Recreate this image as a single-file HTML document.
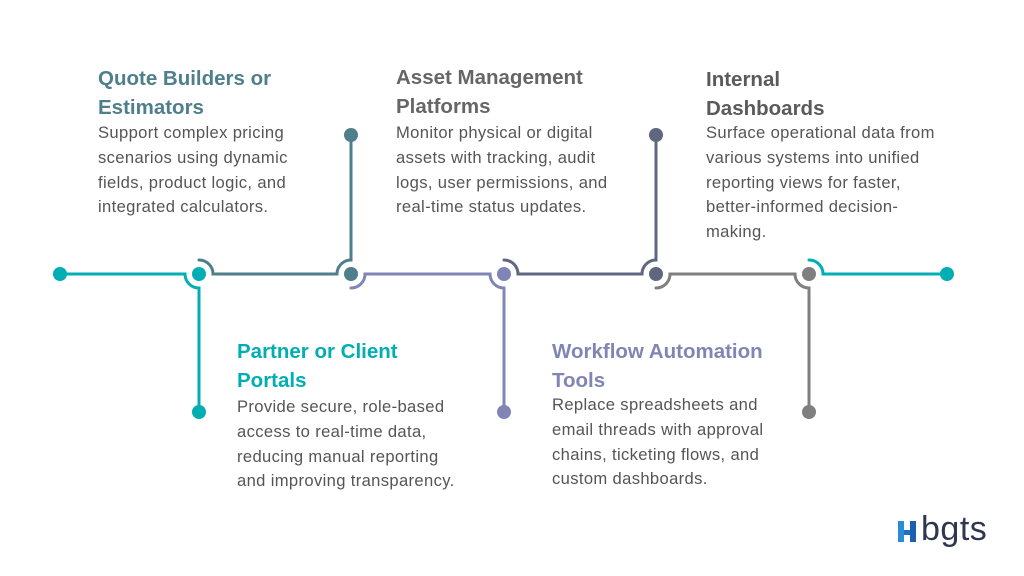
<!DOCTYPE html>
<html><head><meta charset="utf-8"><style>
body{margin:0;width:1024px;height:576px;background:#fff;position:relative;overflow:hidden;font-family:"Liberation Sans",sans-serif}
.t{position:absolute;font-weight:bold;font-size:20.5px;line-height:29px;white-space:nowrap}
.b{position:absolute;font-size:16.6px;line-height:24.8px;color:#555;white-space:nowrap;letter-spacing:0.35px}
</style></head><body>
<svg width="1024" height="576" style="position:absolute;left:0;top:0" fill="none" stroke-width="3" stroke-linecap="round">
<g stroke="#00AEB3"><path d="M60 274 H185 A14 14 0 0 0 199 288 V412"/><path d="M809 260 A14 14 0 0 1 823 274 H947"/></g>
<g fill="#00AEB3"><circle cx="60" cy="274" r="7"/><circle cx="199" cy="274" r="7"/><circle cx="199" cy="412" r="7"/><circle cx="947" cy="274" r="7"/></g>
<path stroke="#4E7F8A" d="M199 260 A14 14 0 0 1 213 274 H337 A14 14 0 0 1 351 260 V135"/>
<g fill="#4E7F8A"><circle cx="351" cy="274" r="7"/><circle cx="351" cy="135" r="7"/></g>
<path stroke="#8085B5" d="M351 288 A14 14 0 0 0 365 274 H490 A14 14 0 0 0 504 288 V412"/>
<g fill="#8085B5"><circle cx="504" cy="274" r="7"/><circle cx="504" cy="412" r="7"/></g>
<path stroke="#5F6680" d="M504 260 A14 14 0 0 1 518 274 H642 A14 14 0 0 1 656 260 V135"/>
<g fill="#5F6680"><circle cx="656" cy="274" r="7"/><circle cx="656" cy="135" r="7"/></g>
<path stroke="#7F7F7F" d="M656 288 A14 14 0 0 0 670 274 H795 A14 14 0 0 0 809 288 V412"/>
<g fill="#7F7F7F"><circle cx="809" cy="274" r="7"/><circle cx="809" cy="412" r="7"/></g>
<rect x="898" y="521" width="6" height="21" fill="#2A8BD8" stroke="none"/>
<rect x="904" y="530" width="6" height="5" fill="#1E6FC0" stroke="none"/>
<rect x="910" y="521" width="6" height="21" fill="#1B5FB0" stroke="none"/>
</svg>
<div style="position:absolute;left:921px;top:510px;font-size:34px;color:#2F3650;letter-spacing:0.5px">bgts</div>

<div class="t" style="left:98px;top:64px;color:#4E7F8A">Quote Builders or<br>Estimators</div>
<div class="b" style="left:98px;top:121px">Support complex pricing<br>scenarios using dynamic<br>fields, product logic, and<br>integrated calculators.</div>

<div class="t" style="left:396px;top:63px;color:#666">Asset Management<br>Platforms</div>
<div class="b" style="left:396px;top:121px">Monitor physical or digital<br>assets with tracking, audit<br>logs, user permissions, and<br>real-time status updates.</div>

<div class="t" style="left:706px;top:65px;color:#5a5a5a">Internal<br>Dashboards</div>
<div class="b" style="left:706px;top:121px">Surface operational data from<br>various systems into unified<br>reporting views for faster,<br>better-informed decision-<br>making.</div>

<div class="t" style="left:237px;top:337px;color:#00AEB3">Partner or Client<br>Portals</div>
<div class="b" style="left:237px;top:395px">Provide secure, role-based<br>access to real-time data,<br>reducing manual reporting<br>and improving transparency.</div>

<div class="t" style="left:552px;top:337px;color:#8085B5">Workflow Automation<br>Tools</div>
<div class="b" style="left:552px;top:393px">Replace spreadsheets and<br>email threads with approval<br>chains, ticketing flows, and<br>custom dashboards.</div>
</body></html>
